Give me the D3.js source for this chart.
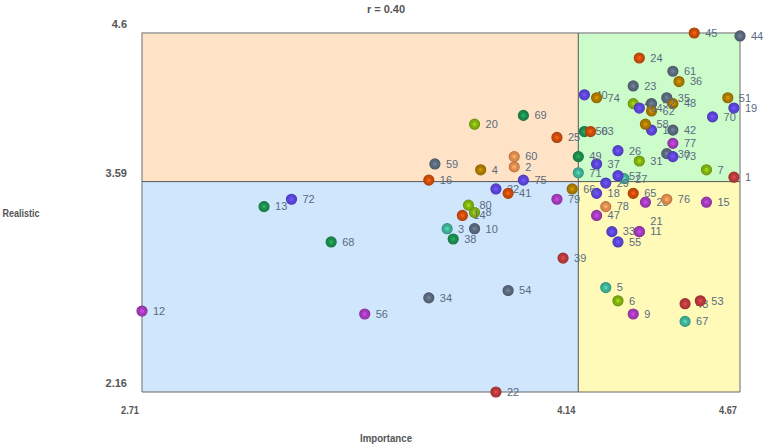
<!DOCTYPE html>
<html>
<head>
<meta charset="utf-8">
<script src="https://cdn.jsdelivr.net/npm/d3@7"></script>
<style>
	body { margin: 0; background: #fff; }
	svg text { font-family: "Liberation Sans Narrow", "Liberation Sans", Arial, sans-serif; }
	.tick-label { font-size: 11px; font-weight: bold; fill: #555; }
	.axis-title { font-size: 11px; font-weight: bold; fill: #555; }
	.point-label { font-size: 11px; fill: #5a6b80; }
</style>
</head>
<body>
<svg id="viz" width="763" height="447"></svg>
<script>

// values
const ids = [1, 2, 3, 4, 5, 6, 7, 8, 9, 10,
	11, 12, 13, 14, 15, 16, 17, 18, 19, 20,
	21, 22, 23, 24, 25, 26, 27, 28, 29, 30,
	31, 32, 33, 34, 35, 36, 37, 38, 39, 40,
	41, 42, 43, 44, 45, 46, 47, 48, 49, 50,
	51, 52, 53, 54, 55, 56, 57, 58, 59, 60,
	61, 62, 63, 64, 65, 66, 67, 68, 69, 70,
	71, 72, 73, 74, 75, 76, 77, 78, 79, 80];

const importance = [4.65, 3.93, 3.71, 3.82, 4.23, 4.27, 4.56, 3.80, 4.32, 3.80,
	4.34, 2.71, 3.11, 3.76, 4.56, 3.65, 4.38, 4.20, 4.65, 3.80,
	4.34, 3.87, 4.32, 4.34, 4.07, 4.27, 4.29, 4.36, 4.23, 4.43,
	4.34, 3.87, 4.25, 3.65, 4.43, 4.47, 4.20, 3.73, 4.09, 4.16,
	3.91, 4.45, 4.49, 4.67, 4.52, 4.32, 4.20, 4.45, 4.14, 4.16,
	4.63, 4.38, 4.54, 3.91, 4.27, 3.44, 4.27, 4.36, 3.67, 3.93,
	4.45, 4.38, 4.18, 4.34, 4.32, 4.12, 4.49, 3.33, 3.96, 4.58,
	4.14, 3.20, 4.45, 4.20, 3.96, 4.43, 4.45, 4.23, 4.07, 3.78];

const realistic = [3.62, 3.69, 3.27, 3.67, 2.87, 2.78, 3.67, 3.38, 2.69, 3.27,
	3.25, 2.71, 3.42, 3.36, 3.45, 3.60, 3.94, 3.51, 4.09, 3.98,
	3.25, 2.16, 4.24, 4.43, 3.89, 3.80, 3.61, 3.45, 3.58, 3.78,
	3.73, 3.54, 3.25, 2.80, 4.16, 4.27, 3.71, 3.20, 3.07, 4.18,
	3.51, 3.94, 2.76, 4.58, 4.60, 4.12, 3.36, 4.12, 3.76, 3.93,
	4.16, 4.12, 2.78, 2.85, 3.18, 2.69, 3.63, 3.98, 3.71, 3.76,
	4.34, 4.07, 3.93, 4.09, 3.51, 3.54, 2.64, 3.18, 4.04, 4.03,
	3.65, 3.47, 3.76, 4.16, 3.60, 3.47, 3.85, 3.42, 3.47, 3.43];

const groups = ["red", "tan", "teal", "gold", "teal", "olive", "olive", "olive", "magenta", "slate",
	"magenta", "magenta", "green", "orange", "magenta", "orange", "purple", "purple", "purple", "olive",
	"magenta", "red", "slate", "orange", "orange", "purple", "teal", "magenta", "purple", "slate",
	"olive", "purple", "purple", "slate", "slate", "gold", "purple", "green", "red", "purple",
	"orange", "slate", "red", "slate", "orange", "olive", "magenta", "gold", "green", "green",
	"gold", "slate", "red", "slate", "purple", "magenta", "purple", "gold", "slate", "tan",
	"slate", "gold", "orange", "purple", "orange", "gold", "teal", "green", "green", "purple",
	"teal", "purple", "purple", "gold", "purple", "tan", "magenta", "tan", "magenta", "olive"];

const groupNames = ["red", "tan", "teal", "gold", "olive", "magenta", "slate", "green", "orange", "purple"];
const groupColors = ["#b5393b", "#dd8a4f", "#3fae94", "#a87800", "#7fae10", "#a23ab8", "#59677a", "#1c8a4c", "#c84b0c", "#5a44d6"];

const xTicks = [2.71, 4.14, 4.67];
const yTicks = [2.16, 3.59, 4.6];
const xSplit = 4.14;
const ySplit = 3.59;
const title = "r = 0.40";
const xTitleText = "Importance";
const yTitleText = "Realistic";

let drawEverything = function() {

	const margin = { top: 33, right: 23, bottom: 55, left: 142 };

	let svg = d3.select("body").select("svg#viz");
	let width = +svg.attr("width");
	let height = +svg.attr("height");

	let xScale = d3.scaleLinear()
		.domain([d3.min(xTicks), d3.max(xTicks)])
		.range([margin.left, width - margin.right]);

	let yScale = d3.scaleLinear()
		.domain([d3.min(yTicks), d3.max(yTicks)])
		.range([height - margin.bottom, margin.top]);

	let colorScale = d3.scaleOrdinal()
		.domain(groupNames)
		.range(groupColors);

	let x0 = xScale.range()[0], x1 = xScale.range()[1];
	let y0 = yScale.range()[1], y1 = yScale.range()[0];
	let xs = xScale(xSplit), ys = yScale(ySplit);

	// quadrant backgrounds
	let quads = [
		{ x: x0, y: y0, w: xs - x0, h: ys - y0, fill: "#ffe3c6" },
		{ x: xs, y: y0, w: x1 - xs, h: ys - y0, fill: "#cdfccb" },
		{ x: x0, y: ys, w: xs - x0, h: y1 - ys, fill: "#cfe6fd" },
		{ x: xs, y: ys, w: x1 - xs, h: y1 - ys, fill: "#fffab8" }
	];
	svg.selectAll("rect.quad")
		.data(quads)
		.enter().append("rect")
		.attr("class", "quad")
		.attr("x", d => d.x)
		.attr("y", d => d.y)
		.attr("width", d => d.w)
		.attr("height", d => d.h)
		.attr("fill", d => d.fill);

	// frame: grey top / left / right, darker bottom and split lines
	svg.append("path")
		.attr("d", `M${x0},${y1}V${y0}H${x1}V${y1}`)
		.attr("fill", "none")
		.attr("stroke", "#9a9a9a")
		.attr("stroke-width", 1.5);
	svg.append("line")
		.attr("x1", x0).attr("x2", x1).attr("y1", y1).attr("y2", y1)
		.attr("stroke", "#666").attr("stroke-width", 1);
	svg.append("line")
		.attr("x1", xs).attr("x2", xs).attr("y1", y0).attr("y2", y1)
		.attr("stroke", "#555").attr("stroke-width", 1);
	svg.append("line")
		.attr("x1", x0).attr("x2", x1).attr("y1", ys).attr("y2", ys)
		.attr("stroke", "#555").attr("stroke-width", 1);

	// tick labels
	svg.selectAll("text.xtick")
		.data(xTicks)
		.enter().append("text")
		.attr("class", "tick-label xtick")
		.attr("x", d => xScale(d) - 3)
		.attr("y", y1 + 22)
		.attr("text-anchor", "end")
		.attr("textLength", 18)
		.attr("lengthAdjust", "spacingAndGlyphs")
		.text(d => d);

	svg.selectAll("text.ytick")
		.data(yTicks)
		.enter().append("text")
		.attr("class", "tick-label ytick")
		.attr("x", x0 - 15)
		.attr("y", d => yScale(d) - 5)
		.attr("text-anchor", "end")
		.text(d => d);

	// titles (narrow font is not available, so squeeze them a bit)
	svg.append("text")
		.attr("class", "axis-title")
		.attr("x", (x0 + x1) / 2 - 55)
		.attr("y", 13)
		.attr("text-anchor", "middle")
		.text(title);

	svg.append("text")
		.attr("class", "axis-title")
		.attr("x", (x0 + x1) / 2 - 55)
		.attr("y", 442)
		.attr("text-anchor", "middle")
		.attr("textLength", 52)
		.attr("lengthAdjust", "spacingAndGlyphs")
		.text(xTitleText);

	svg.append("text")
		.attr("class", "axis-title")
		.attr("x", 21)
		.attr("y", (y0 + y1) / 2 + 4)
		.attr("text-anchor", "middle")
		.attr("textLength", 37)
		.attr("lengthAdjust", "spacingAndGlyphs")
		.text(yTitleText);

	// points, stacking labels of points that sit on the same spot
	let seen = {};
	let data = ids.map(function(id, i) {
		let key = importance[i] + "," + realistic[i];
		seen[key] = (seen[key] || 0) + 1;
		return { id: id, x: importance[i], y: realistic[i], g: groups[i], stack: seen[key] - 1 };
	});

	let points = svg.selectAll("g.point")
		.data(data)
		.enter().append("g")
		.attr("class", "point")
		.attr("transform", d => `translate(${xScale(d.x)},${yScale(d.y)})`);

	points.append("circle")
		.attr("r", 5)
		.attr("fill", d => colorScale(d.g))
		.attr("stroke", d => d3.color(colorScale(d.g)).darker(0.4))
		.attr("stroke-width", 1.2);

	points.append("circle")
		.attr("r", 2)
		.attr("fill", d => d3.color(colorScale(d.g)).brighter(0.7))
		.attr("opacity", 0.8);

	points.append("text")
		.attr("class", "point-label")
		.attr("x", 11)
		.attr("y", d => -d.stack * 10)
		.attr("dy", "0.35em")
		.text(d => d.id);
};

drawEverything();
</script>
</body>
</html>
